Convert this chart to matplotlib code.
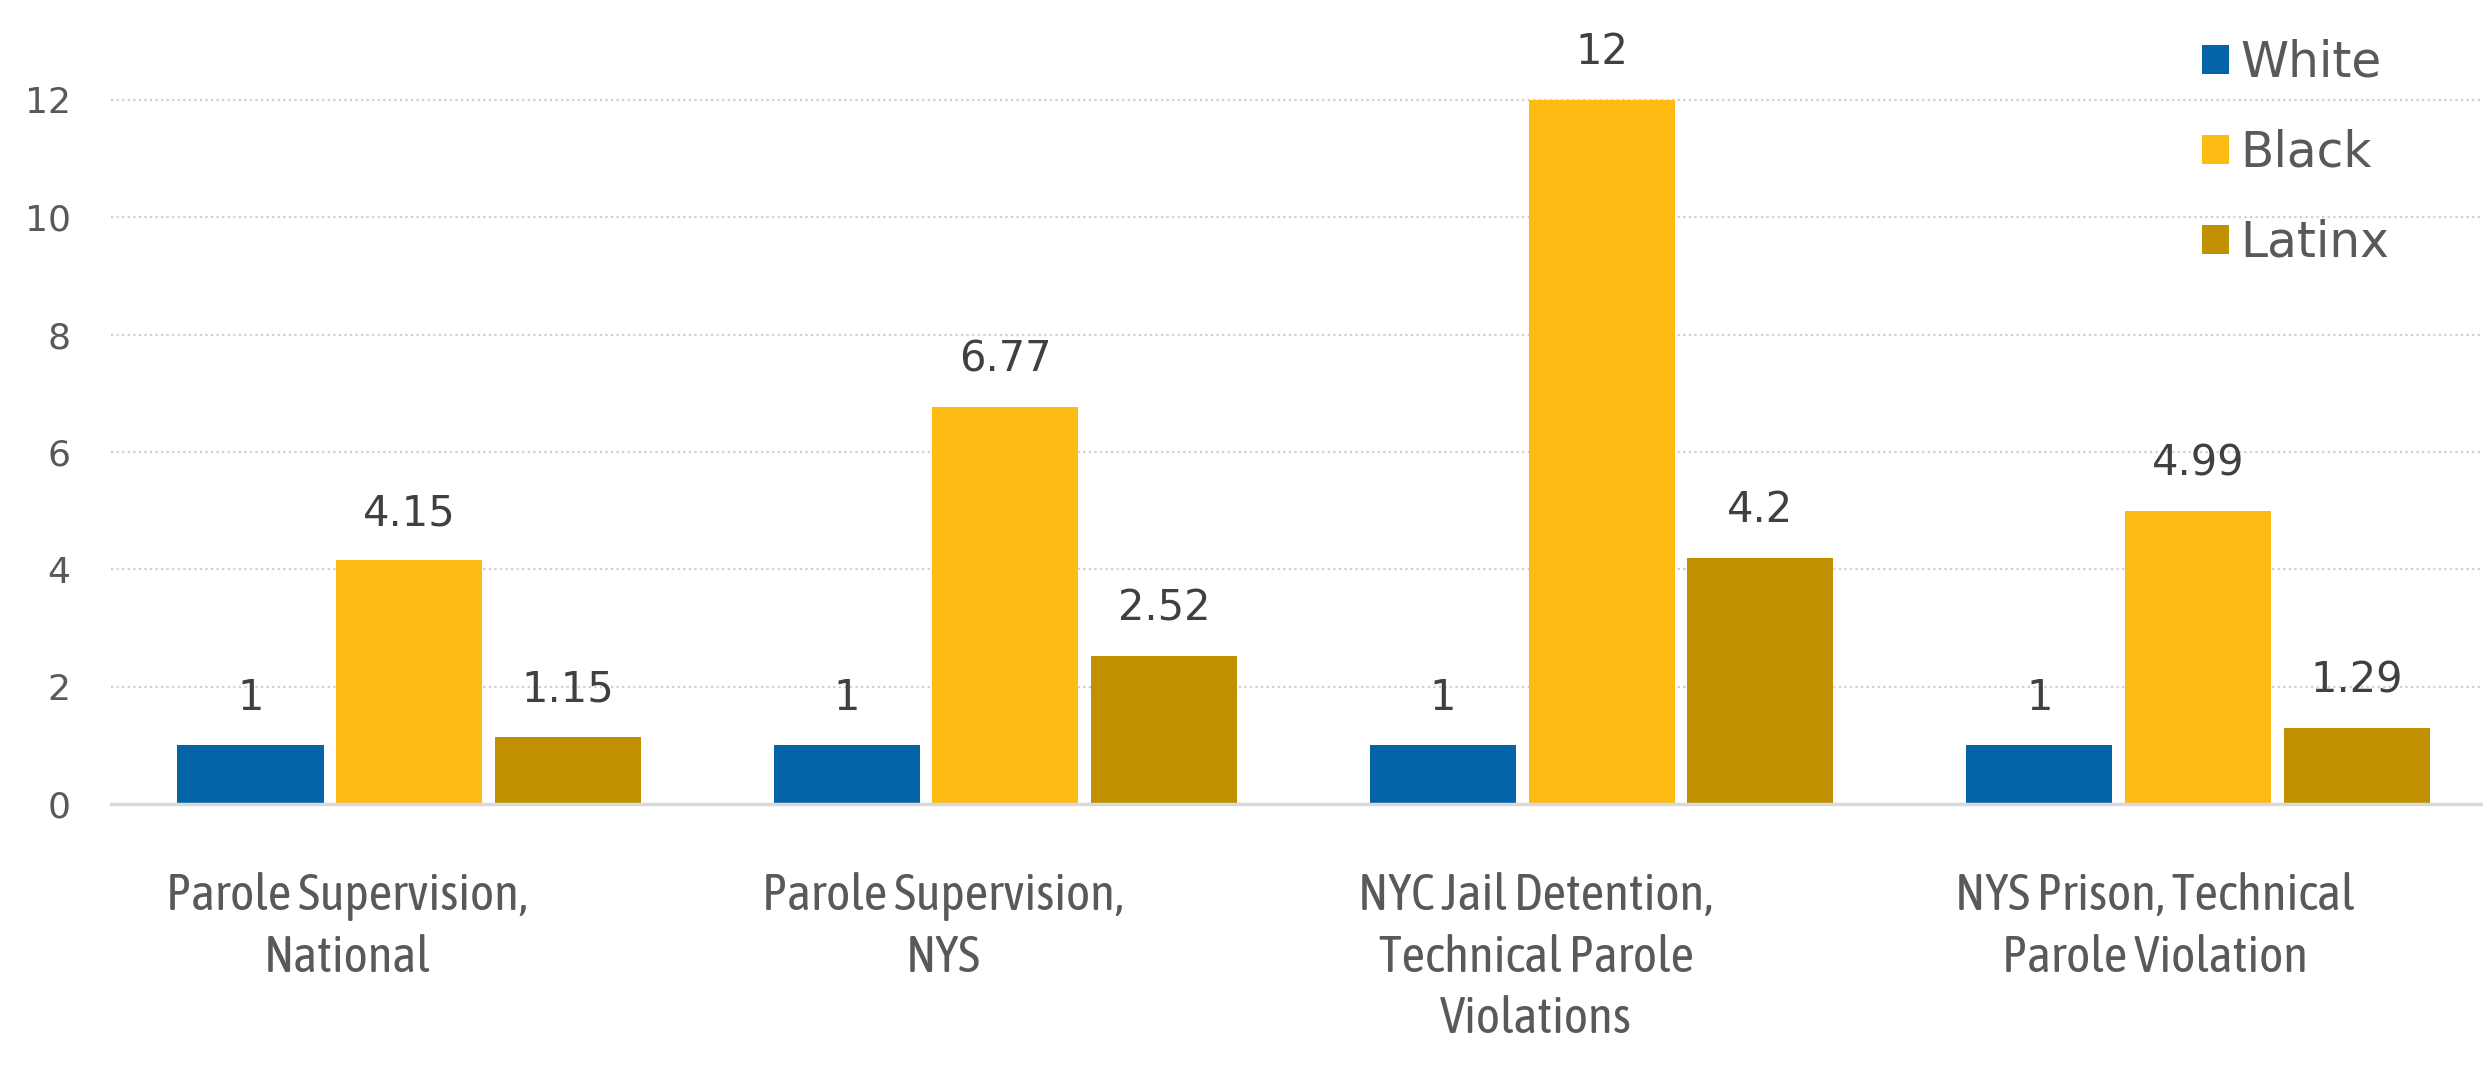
import matplotlib.pyplot as plt
import numpy as np

# chart data
categories = [
    "Parole Supervision,\nNational",
    "Parole Supervision,\nNYS",
    "NYC Jail Detention,\nTechnical Parole\nViolations",
    "NYS Prison, Technical\nParole Violation",
]
series_names = ["White", "Black", "Latinx"]
white = [1, 1, 1, 1]
black = [4.15, 6.77, 12, 4.99]
latinx = [1.15, 2.52, 4.2, 1.29]
value_labels = [
    ["1", "1", "1", "1"],
    ["4.15", "6.77", "12", "4.99"],
    ["1.15", "2.52", "4.2", "1.29"],
]
yticks = [0, 2, 4, 6, 8, 10, 12]

colors = ["#0563a8", "#fdbb13", "#bf9000"]

fig = plt.figure(figsize=(24.83, 10.67), dpi=100)
ax = fig.add_axes([111 / 2483, 1 - 804 / 1067, 1 - 111 / 2483, 804 / 1067])

x = np.arange(len(categories))
width = 0.245
step = 0.266

for i, (vals, name) in enumerate(zip([white, black, latinx], series_names)):
    xs = x + (i - 1) * step
    ax.bar(xs, vals, width, color=colors[i], label=name, zorder=3)
    for xi, v, lab in zip(xs, vals, value_labels[i]):
        ax.annotate(lab, (xi, v), xytext=(0, 19), textcoords="offset points",
                    ha="center", va="bottom", fontsize=30, color="#404040",
                    family="DejaVu Sans", annotation_clip=False)

ax.set_xlim(-0.5, 3.478)
ax.set_ylim(0, 13.7)
ax.set_yticks(yticks)
ax.tick_params(axis="y", length=0, pad=29, labelsize=26, labelcolor="#595959")
ax.set_xticks([])

ax.yaxis.grid(True, linestyle=(0, (1, 1.5)), color="#cfcfcf", linewidth=1.6, zorder=0)
for side in ["top", "right", "left"]:
    ax.spines[side].set_visible(False)
ax.spines["bottom"].set_color("#d9d9d9")
ax.spines["bottom"].set_linewidth(2.5)
ax.spines["bottom"].set_zorder(4)

# category labels, left-aligned at the start of each group
for xi, cat in zip(x, categories):
    ax.annotate(cat, (xi - 0.408, 0), xytext=(0, -49), textcoords="offset points",
                ha="left", va="top", multialignment="center", fontsize=37,
                family=["Asap Condensed", "Carlito", "Lato"], color="#595959",
                linespacing=1.33, annotation_clip=False)

leg = ax.legend(loc="upper right", bbox_to_anchor=(0.977, 1.0), frameon=False,
                fontsize=35, handlelength=0.55, handleheight=0.55, handletextpad=0.25,
                labelspacing=0.86, borderaxespad=0.4)
for t in leg.get_texts():
    t.set_color("#595959")

fig.savefig("out.png", dpi=100)
